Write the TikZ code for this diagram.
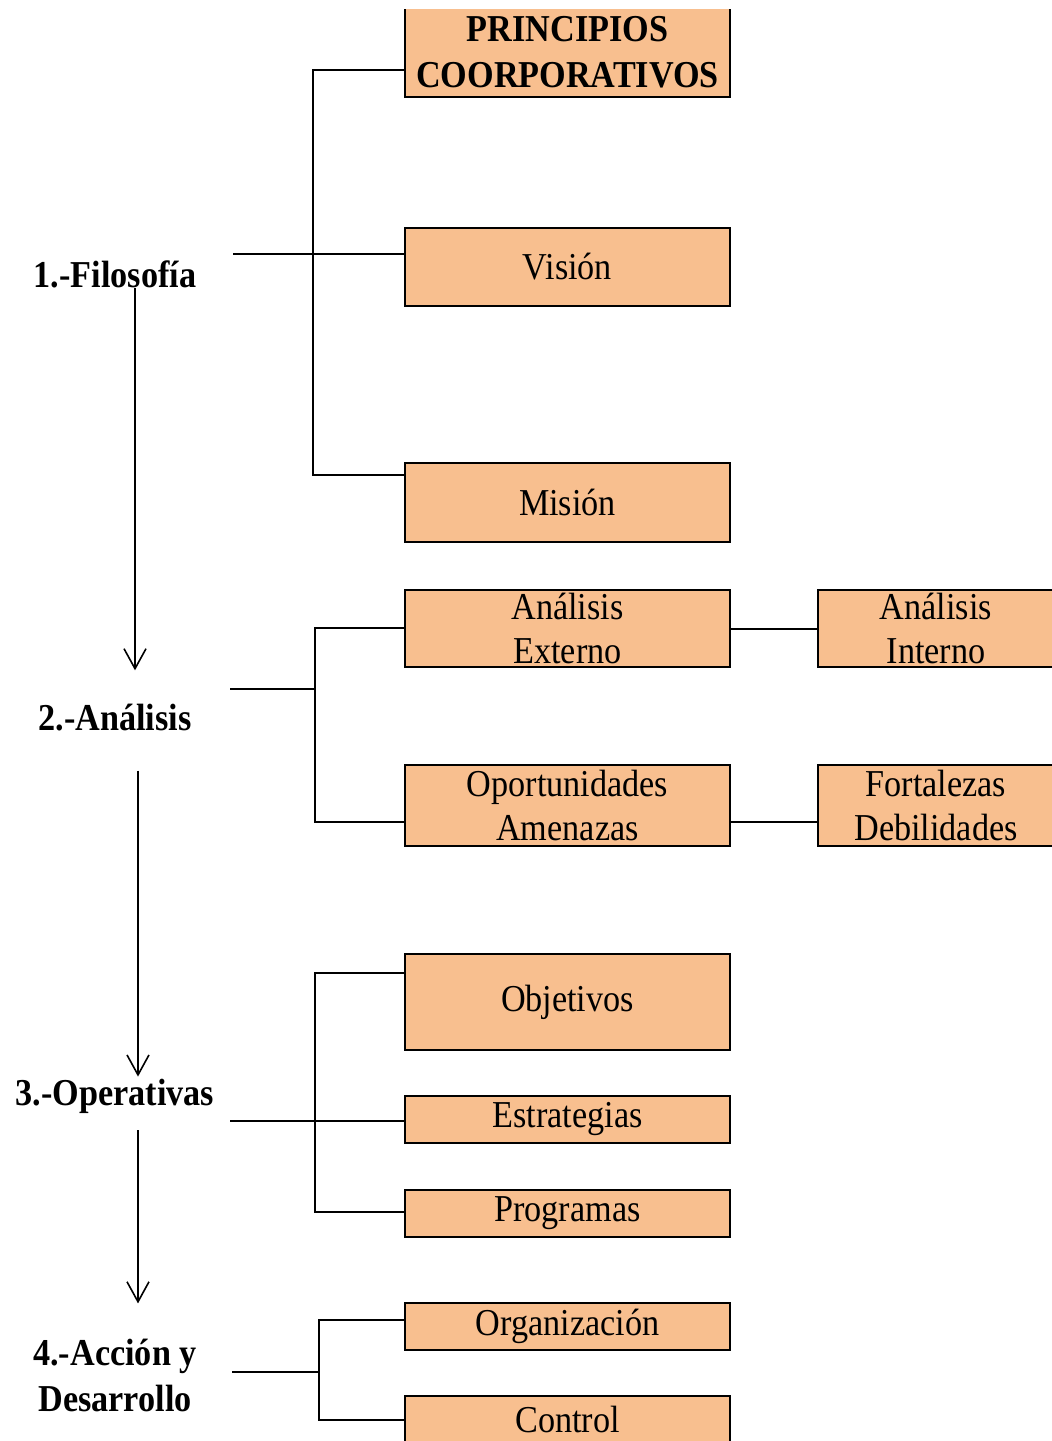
\documentclass[tikz,border=0pt]{standalone}
\usepackage{fontspec}
\setmainfont{Liberation Serif}[FakeStretch=0.9]
\usetikzlibrary{arrows.meta}
\definecolor{boxfill}{RGB}{248,191,143}

\begin{document}
\begin{tikzpicture}[x=1pt,y=-1pt]
	\tikzset{box/.style = {draw, line width=2pt, fill=boxfill, inner sep=0pt, minimum width=325pt, align=center, font=\fontsize{38}{44}\selectfont}}
	\tikzset{sidebox/.style = {box, minimum width=236pt}}
	\tikzset{stage/.style = {inner sep=0pt, align=center, font=\bfseries\fontsize{38}{46}\selectfont}}
	\tikzset{link/.style = {line width=2pt}}
	\tikzset{flow/.style = {line width=1.6pt, -{Straight Barb[length=20pt,width=22pt,line width=1.6pt]}}}
	\useasboundingbox (0,0) rectangle (1052,1441);
	\clip (0,9) rectangle (1052,1441);
	% stages
	\node[stage] (fil) at (115,274) {1.-Filosofía};
	\node[stage] (ana) at (115,718) {2.-Análisis};
	\node[stage] (ope) at (115,1096) {3.-Operativas};
	\node[stage] (acc) at (115,1375) {4.-Acción y\\Desarrollo};
	% boxes
	\node[box, minimum height=90pt, font=\bfseries\fontsize{38}{46}\selectfont] (pri) at (567.5,52) {PRINCIPIOS\\COORPORATIVOS};
	\node[box, minimum height=78pt] (vis) at (567.5,267) {Visión};
	\node[box, minimum height=79pt] (mis) at (567.5,502.5) {Misión};
	\node[box, minimum height=77pt] (aex) at (567.5,628.5) {Análisis\\Externo};
	\node[sidebox, minimum height=77pt] (ain) at (936,628.5) {Análisis\\Interno};
	\node[box, minimum height=81pt] (opa) at (567.5,805.5) {Oportunidades\\Amenazas};
	\node[sidebox, minimum height=81pt] (fod) at (936,805.5) {Fortalezas\\Debilidades};
	\node[box, minimum height=96pt] (obj) at (567.5,1002) {Objetivos};
	\node[box, minimum height=47pt] (est) at (567.5,1119.5) {Estrategias};
	\node[box, minimum height=47pt] (pro) at (567.5,1213.5) {Programas};
	\node[box, minimum height=47pt] (org) at (567.5,1326.5) {Organización};
	\node[box, minimum height=47pt] (ctl) at (567.5,1419.5) {Control};
	% joints
	\coordinate (fj1) at (313,70);
	\coordinate (fj2) at (313,475);
	\coordinate (fm) at (233,254);
	\coordinate (aj1) at (315,628);
	\coordinate (aj2) at (315,822);
	\coordinate (am) at (230,689);
	\coordinate (od) at (730,822);
	\coordinate (oj1) at (315,973);
	\coordinate (oj2) at (315,1212);
	\coordinate (om) at (230,1121);
	\coordinate (cj1) at (319,1320);
	\coordinate (cj2) at (319,1420);
	\coordinate (cm) at (232,1372);
	% links
	\draw[link] (fj1 -| pri.west) -- (fj1) -- (fj2) -- (fj2 -| mis.west);
	\draw[link] (fm) -- (fm -| vis.west);
	\draw[link] (aj1 -| aex.west) -- (aj1) -- (aj2) -- (aj2 -| opa.west);
	\draw[link] (am) -- (am -| aj1);
	\draw[link] (aex.east) -- (ain.west);
	\draw[link] (od) -- (od -| fod.west);
	\draw[link] (oj1 -| obj.west) -- (oj1) -- (oj2) -- (oj2 -| pro.west);
	\draw[link] (om) -- (om -| est.west);
	\draw[link] (cj1 -| org.west) -- (cj1) -- (cj2) -- (cj2 -| ctl.west);
	\draw[link] (cm) -- (cm -| cj1);
	% flow
	\draw[flow, shorten >=34pt] ([xshift=20pt]fil.south) -- ([xshift=20pt]ana.north);
	\draw[flow, shorten <=39pt, shorten >=2pt] ([xshift=23pt]ana.south) -- ([xshift=23pt]ope.north);
	\draw[flow, shorten <=17pt, shorten >=35pt] ([xshift=23pt]ope.south) -- ([xshift=23pt]acc.north);
\end{tikzpicture}
\end{document}
